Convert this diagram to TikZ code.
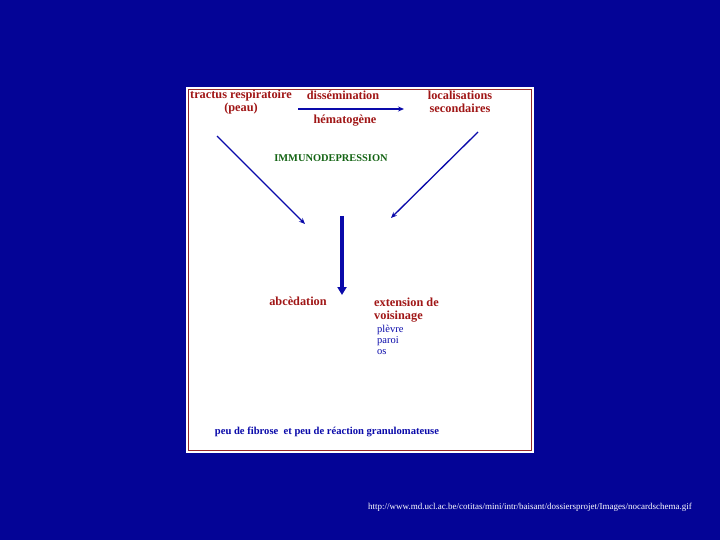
\documentclass[tikz,border=0pt]{standalone}
\usepackage{fontspec}
\setmainfont{Liberation Serif}
\usetikzlibrary{arrows.meta}
\definecolor{bg}{RGB}{4,4,150}
\definecolor{txtred}{RGB}{160,22,22}
\definecolor{txtgreen}{RGB}{20,100,20}
\definecolor{arrblue}{RGB}{10,10,170}
\definecolor{framered}{RGB}{150,40,40}
\tikzset{
  redtxt/.style={text=txtred, font=\bfseries\fontsize{12.3}{13}\selectfont, inner sep=0pt, align=center},
  redtxtl/.style={redtxt, align=left, anchor=north west},
  smalltxt/.style={text=arrblue, font=\fontsize{10.5}{11}\selectfont, inner sep=0pt, align=left, anchor=north west},
  thinarrow/.style={draw=arrblue, line width=1.3pt, -{Stealth[length=6pt,width=5pt]}},
  thickarrow/.style={draw=arrblue, line width=4.5pt, -{Triangle[length=8pt,width=9pt]}}
}
\begin{document}
\begin{tikzpicture}[x=1pt,y=-1pt]
\useasboundingbox (0,0) rectangle (720,540);
\fill[bg] (0,0) rectangle (720,540);
\fill[white] (186,87) rectangle (534,453);
\draw[framered, line width=0.8pt] (188.5,89.5) rectangle (531.5,450.5);
% texts
\node[redtxt] (tractus) at (241,102) {tractus respiratoire\\(peau)};
\node[redtxt] (dissem) at (343,95.5) {dissémination};
\node[redtxt] (hemato) at (345,121) {hématogène};
\node[redtxt] (local) at (460,102) {localisations\\secondaires};
\node[text=txtgreen, font=\bfseries\fontsize{10.4}{12}\selectfont, inner sep=0pt] (immuno) at (331,158) {IMMUNODEPRESSION};
\node[redtxt] (abced) at (298,301) {abcèdation};
\node[redtxtl] (ext) at (374,297.5) {extension de\\voisinage};
\node[smalltxt] (list) at (377,325) {plèvre\\paroi\\os};
\node[text=arrblue, font=\bfseries\fontsize{10.6}{12}\selectfont, inner sep=0pt] (fib) at (327,432) {peu de fibrose\ \ et peu de réaction\ granulomateuse};
\node[text=white, font=\fontsize{9}{10}\selectfont, inner sep=0pt, anchor=west] (url) at (368,507) {http://www.md.ucl.ac.be/cotitas/mini/intr/baisant/dossiersprojet/Images/nocardschema.gif};
% connector coordinates
\coordinate (h1) at (298,109);
\coordinate (h2) at (404,109);
\coordinate (l1) at (217,136);
\coordinate (l2) at (305,224);
\coordinate (r1) at (478,132);
\coordinate (r2) at (391,218);
\coordinate (c1) at (342,216);
\coordinate (c2) at (342,295);
\draw[thinarrow] (h1) -- (h2);
\draw[thinarrow] (l1) -- (l2);
\draw[thinarrow] (r1) -- (r2);
\draw[thickarrow] (c1) -- (c2);
\end{tikzpicture}
\end{document}
